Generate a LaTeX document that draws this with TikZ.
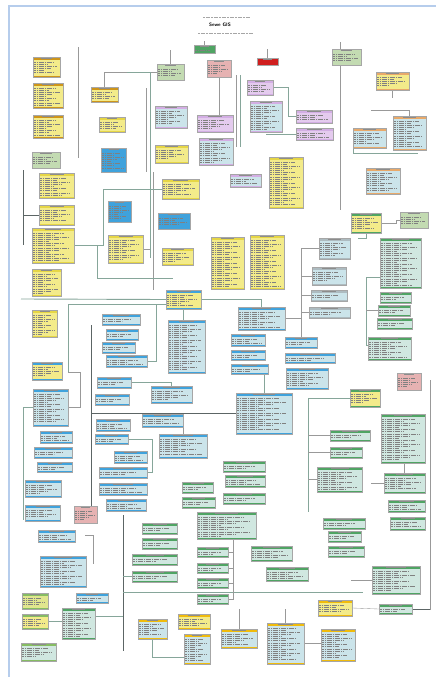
\documentclass[tikz,border=0pt]{standalone}
\usepackage{tikz}
\usetikzlibrary{calc}
\usetikzlibrary{backgrounds}

\definecolor{hdorange}{HTML}{CE951A}
\definecolor{bdyellow}{HTML}{F3EB8A}
\definecolor{hdyellow}{HTML}{E6D646}
\definecolor{hdblue}{HTML}{3FA2DC}
\definecolor{bdblue}{HTML}{CBE4EA}
\definecolor{hdgreen}{HTML}{4FA463}
\definecolor{bdgreen}{HTML}{D0E7E0}
\definecolor{ltgreen}{HTML}{C3DBB2}
\definecolor{hdlgreen}{HTML}{86BC62}
\definecolor{bdygreen}{HTML}{E0E68E}
\definecolor{hdlav}{HTML}{D3AEE4}
\definecolor{bdlav}{HTML}{E4CBEE}
\definecolor{pkbox}{HTML}{E6B2B2}
\definecolor{rdbox}{HTML}{D01E1E}
\definecolor{hdgrey}{HTML}{ADBBC0}
\definecolor{hdpeach}{HTML}{E8A96A}
\definecolor{hdgold}{HTML}{F0BB0C}
\definecolor{wirec}{HTML}{86A69A}
\definecolor{darkwirec}{HTML}{5C6565}
\definecolor{frameblue}{HTML}{B6CDEC}

% table box: name, x, y, width, height, header colour, body colour
\newcommand{\tbl}[7]{%
  \node[tblbox, fill=#7, minimum width=#4mm, minimum height=#5mm] (#1) at (#2,#3) {};
  \fill[#6] (#1.north west) rectangle ([yshift=-3mm]#1.north east);
  \fill[#6] (#1.south west) rectangle ([yshift=1.4mm]#1.south east);
  \draw[hdtxt] ([xshift=-#4*0.2mm, yshift=-1.5mm]#1.north) -- ++(#4*0.4mm,0);
  \pgfmathtruncatemacro\tblnl{(#5-5.5)/2.1}%
  \ifnum\tblnl>0
    \foreach \k in {1,...,\tblnl}{%
      \pgfmathsetmacro\tbllen{(#4-2.5)*(0.4+0.13*mod(\k*3,5))}%
      \draw[txtline] ([xshift=1.2mm, yshift={-(2.9+2.1*\k)*1mm}]#1.north west) -- ++(\tbllen*1mm,0);
    }%
  \fi
  \draw[tblrule] (#1.north west) rectangle (#1.south east);
}

\begin{document}
\begin{tikzpicture}[
  x = 1mm,
  y = -1mm,
  tblbox/.style = {
    rectangle,
    draw = none,
    inner sep = 0pt,
    outer sep = 0pt,
    anchor = north west,
  },
  tblrule/.style = {draw = black!35, line width = 0.2mm},
  txtline/.style = {
    draw = black!50,
    line width = 0.3mm,
    dash pattern = on 2.2mm off 0.6mm on 1mm off 0.6mm on 3mm off 0.6mm,
  },
  hdtxt/.style = {draw = black!45, line width = 0.3mm},
  wire/.style = {draw = wirec, line width = 0.9mm},
  thinwire/.style = {draw = black!40, line width = 0.35mm},
  darkwire/.style = {draw = darkwirec, line width = 0.8mm},
]
  \useasboundingbox (0,0) rectangle (436,677);

  % title
  \node[font=\sffamily\bfseries\fontsize{14}{16}\selectfont] (title) at (220,25) {Sewe GIS};
  \coordinate (sta) at (203,17); \coordinate (stb) at (250,17);
  \coordinate (sba) at (198,33); \coordinate (sbb) at (253,33);
  \draw[txtline, draw=black!35, line width=0.3mm] (sta) -- (stb);
  \draw[txtline, draw=black!35, line width=0.3mm] (sba) -- (sbb);

  % top area
  \tbl{ora}{33}{57}{27}{20}{hdorange}{bdyellow}
  \tbl{orb}{33}{83}{30}{25}{hdorange}{bdyellow}
  \tbl{orc}{33}{115}{30}{23}{hdorange}{bdyellow}
  \tbl{lga}{32}{152}{28}{16}{ltgreen}{ltgreen}
  \tbl{ord}{91}{87}{27}{15}{hdorange}{bdyellow}
  \tbl{yla}{99}{117}{26}{15}{hdyellow}{bdyellow}
  \tbl{bsa}{101}{148}{25}{24}{hdblue}{hdblue}
  \tbl{lgb}{157}{64}{27}{16}{ltgreen}{ltgreen}
  \tbl{dga}{194}{45}{21}{8}{hdgreen}{hdgreen}
  \tbl{pka}{207}{60}{24}{17}{pkbox}{pkbox}
  \tbl{lva}{155}{106}{32}{22}{hdlav}{bdblue}
  \tbl{ylb}{155}{145}{33}{18}{hdyellow}{bdyellow}
  \tbl{lvb}{197}{115}{36}{17}{hdlav}{bdlav}
  \tbl{lvc}{199}{138}{34}{27}{hdlav}{bdblue}
  \tbl{rda}{257}{58}{21}{7}{rdbox}{rdbox}
  \tbl{lgc}{332}{49}{29}{16}{ltgreen}{ltgreen}
  \tbl{pca}{376}{72}{33}{18}{hdpeach}{bdyellow}
  \tbl{lvd}{247}{80}{26}{15}{hdlav}{bdlav}
  \tbl{lve}{250}{101}{32}{31}{hdlav}{bdblue}
  \tbl{lvf}{296}{110}{36}{13}{hdlav}{bdlav}
  \tbl{lvg}{296}{128}{37}{12}{hdlav}{bdlav}
  \tbl{pcb}{353}{128}{33}{20}{hdpeach}{bdblue}
  \tbl{pcc}{393}{116}{33}{34}{hdpeach}{bdblue}
  \tbl{ylc}{269}{157}{34}{51}{hdyellow}{bdyellow}
  \tbl{pcd}{366}{168}{34}{26}{hdpeach}{bdblue}

  % yellow block
  \tbl{yld}{39}{173}{35}{25}{hdyellow}{bdyellow}
  \tbl{yle}{39}{205}{35}{20}{hdyellow}{bdyellow}
  \tbl{ylf}{32}{228}{42}{35}{hdyellow}{bdyellow}
  \tbl{ylg}{32}{269}{29}{27}{hdyellow}{bdyellow}
  \tbl{bsb}{108}{201}{23}{21}{hdblue}{hdblue}
  \tbl{ylh}{108}{235}{35}{28}{hdyellow}{bdyellow}
  \tbl{yli}{162}{179}{37}{20}{hdyellow}{bdyellow}
  \tbl{bsc}{158}{213}{32}{16}{hdblue}{hdblue}
  \tbl{ylj}{162}{248}{31}{17}{hdyellow}{bdyellow}
  \tbl{ylk}{211}{237}{33}{52}{hdyellow}{bdyellow}
  \tbl{yll}{250}{235}{34}{54}{hdyellow}{bdyellow}
  \tbl{lvh}{230}{174}{31}{13}{hdlav}{bdblue}

  % right middle
  \tbl{gya}{351}{213}{30}{20}{hdgreen}{bdyellow}
  \tbl{lgd}{400}{212}{28}{16}{ltgreen}{ltgreen}
  \tbl{gra}{319}{238}{31}{21}{hdgrey}{bdblue}
  \tbl{grb}{312}{267}{34}{18}{hdgrey}{bdblue}
  \tbl{grc}{311}{290}{36}{11}{hdgrey}{bdblue}
  \tbl{grd}{309}{307}{41}{11}{hdgrey}{bdblue}
  \tbl{gna}{380}{238}{41}{50}{hdgreen}{bdgreen}
  \tbl{gnb}{380}{292}{31}{11}{hdgreen}{bdgreen}
  \tbl{gnc}{378}{305}{32}{11}{hdgreen}{bdgreen}
  \tbl{gnd}{377}{318}{35}{11}{hdgreen}{bdgreen}

  % blue block
  \tbl{bya}{166}{290}{35}{19}{hdblue}{bdyellow}
  \tbl{bla}{168}{320}{37}{53}{hdblue}{bdblue}
  \tbl{ylm}{32}{310}{25}{27}{hdyellow}{bdyellow}
  \tbl{blb}{102}{314}{38}{11}{hdblue}{bdblue}
  \tbl{blc}{106}{329}{32}{11}{hdblue}{bdblue}
  \tbl{bld}{238}{307}{47}{23}{hdblue}{bdblue}
  \tbl{ble}{231}{334}{34}{12}{hdblue}{bdblue}
  \tbl{blf}{231}{350}{34}{10}{hdblue}{bdblue}
  \tbl{blg}{231}{364}{37}{10}{hdblue}{bdblue}
  \tbl{blh}{285}{337}{32}{11}{hdblue}{bdblue}
  \tbl{bli}{285}{353}{50}{10}{hdblue}{bdblue}
  \tbl{blj}{286}{368}{42}{21}{hdblue}{bdblue}
  \tbl{blk}{236}{393}{56}{41}{hdblue}{bdblue}
  \tbl{bll}{102}{342}{33}{11}{hdblue}{bdblue}
  \tbl{blm}{106}{355}{41}{12}{hdblue}{bdblue}
  \tbl{byb}{32}{362}{30}{18}{hdblue}{bdyellow}
  \tbl{bln}{33}{389}{35}{37}{hdblue}{bdblue}
  \tbl{blo}{40}{431}{32}{12}{hdblue}{bdblue}
  \tbl{blp}{34}{447}{38}{11}{hdblue}{bdblue}
  \tbl{blq}{37}{462}{35}{10}{hdblue}{bdblue}
  \tbl{blr}{25}{480}{36}{17}{hdblue}{bdblue}
  \tbl{bls}{25}{505}{35}{16}{hdblue}{bdblue}
  \tbl{pkb}{74}{506}{23}{17}{pkbox}{pkbox}
  \tbl{blt}{97}{377}{34}{11}{hdblue}{bdblue}
  \tbl{blu}{95}{394}{34}{11}{hdblue}{bdblue}
  \tbl{blv}{151}{386}{41}{17}{hdblue}{bdblue}
  \tbl{blw}{142}{414}{41}{13}{hdblue}{bdblue}
  \tbl{blx}{96}{419}{34}{12}{hdblue}{bdblue}
  \tbl{bly}{95}{434}{33}{10}{hdblue}{bdblue}
  \tbl{blz}{159}{434}{48}{24}{hdblue}{bdblue}
  \tbl{bma}{114}{451}{33}{12}{hdblue}{bdblue}
  \tbl{bmb}{99}{467}{48}{11}{hdblue}{bdblue}
  \tbl{bmc}{99}{483}{48}{12}{hdblue}{bdblue}
  \tbl{bmd}{106}{499}{40}{12}{hdblue}{bdblue}

  % green block
  \tbl{gne}{182}{482}{31}{11}{hdgreen}{bdgreen}
  \tbl{gnf}{182}{497}{33}{11}{hdgreen}{bdgreen}
  \tbl{gng}{368}{337}{43}{23}{hdgreen}{bdgreen}
  \tbl{pkc}{397}{373}{24}{17}{pkbox}{pkbox}
  \tbl{gyb}{350}{389}{30}{18}{hdgreen}{bdyellow}
  \tbl{gnh}{381}{414}{44}{49}{hdgreen}{bdgreen}
  \tbl{gni}{330}{430}{40}{11}{hdgreen}{bdgreen}
  \tbl{gnj}{330}{447}{32}{11}{hdgreen}{bdgreen}
  \tbl{gnk}{317}{467}{45}{25}{hdgreen}{bdgreen}
  \tbl{gnl}{384}{473}{41}{20}{hdgreen}{bdgreen}
  \tbl{gnm}{388}{500}{37}{12}{hdgreen}{bdgreen}
  \tbl{gnn}{223}{461}{42}{11}{hdgreen}{bdgreen}
  \tbl{gno}{225}{475}{40}{12}{hdgreen}{bdgreen}
  \tbl{gnp}{223}{493}{42}{11}{hdgreen}{bdgreen}

  % bottom
  \tbl{bme}{38}{530}{37}{12}{hdblue}{bdblue}
  \tbl{bmf}{40}{556}{46}{31}{hdblue}{bdblue}
  \tbl{bmg}{76}{593}{32}{10}{hdblue}{bdblue}
  \tbl{lgf}{22}{593}{26}{16}{hdlgreen}{bdygreen}
  \tbl{lgg}{22}{614}{26}{15}{hdlgreen}{bdyellow}
  \tbl{lgh}{21}{643}{35}{18}{hdlgreen}{bdgreen}
  \tbl{gnq}{62}{608}{33}{31}{hdgreen}{bdgreen}
  \tbl{gnr}{142}{523}{35}{11}{hdgreen}{bdgreen}
  \tbl{gns}{142}{538}{35}{11}{hdgreen}{bdgreen}
  \tbl{gnt}{132}{554}{45}{11}{hdgreen}{bdgreen}
  \tbl{gnu}{132}{571}{45}{11}{hdgreen}{bdgreen}
  \tbl{gnv}{197}{512}{59}{27}{hdgreen}{bdgreen}
  \tbl{gnw}{197}{547}{31}{10}{hdgreen}{bdgreen}
  \tbl{gnx}{197}{563}{31}{10}{hdgreen}{bdgreen}
  \tbl{gny}{197}{578}{31}{10}{hdgreen}{bdgreen}
  \tbl{gnz}{197}{594}{31}{10}{hdgreen}{bdgreen}
  \tbl{goa}{251}{546}{41}{15}{hdgreen}{bdgreen}
  \tbl{gob}{266}{567}{42}{14}{hdgreen}{bdgreen}
  \tbl{goc}{323}{518}{42}{11}{hdgreen}{bdgreen}
  \tbl{god}{328}{531}{33}{11}{hdgreen}{bdgreen}
  \tbl{goe}{328}{546}{36}{11}{hdgreen}{bdgreen}
  \tbl{gof}{390}{517}{35}{13}{hdgreen}{bdgreen}
  \tbl{gog}{372}{566}{48}{28}{hdgreen}{bdgreen}
  \tbl{goh}{379}{604}{33}{10}{hdgreen}{bdgreen}
  \tbl{yba}{138}{619}{29}{20}{hdgold}{bdblue}
  \tbl{ybb}{178}{614}{32}{15}{hdgold}{bdyellow}
  \tbl{ybc}{184}{634}{26}{30}{hdgold}{bdblue}
  \tbl{ybd}{318}{600}{34}{16}{hdgold}{bdyellow}
  \tbl{ybe}{221}{629}{36}{19}{hdgold}{bdblue}
  \tbl{ybf}{267}{623}{37}{41}{hdgold}{bdblue}
  \tbl{ybg}{321}{629}{34}{32}{hdgold}{bdblue}

  % free ends of connectors
  \coordinate (vla) at (78,47);   \coordinate (vlb) at (78,158);
  \coordinate (tha) at (127,72);  \coordinate (thb) at (150,258);
  \coordinate (tta) at (146,88);  \coordinate (ttb) at (146,172);
  \coordinate (tca) at (153,172); \coordinate (tcb) at (153,290);
  \coordinate (gva) at (240,75);  \coordinate (gvb) at (240,147);
  \coordinate (gwa) at (236,75);  \coordinate (gwb) at (236,147);
  \coordinate (pcl) at (371,110); \coordinate (pcr) at (418,153);
  \coordinate (vra) at (340,42);  \coordinate (vrb) at (340,210);
  \coordinate (yva) at (23,170);  \coordinate (yvb) at (23,245);
  \coordinate (yha) at (97,245);  \coordinate (yhb) at (173,278);
  \coordinate (bwa) at (21,299);  \coordinate (bwb) at (68,372);
  \coordinate (bvc) at (156,304);
  \coordinate (dka) at (91,325);  \coordinate (dkb) at (91,510);
  \coordinate (gla) at (23,520);
  \coordinate (gvk) at (366,345); \coordinate (gyc) at (358,238);
  \coordinate (gvx) at (308,512); \coordinate (rva) at (430,380);
  \coordinate (dkc) at (123,515); \coordinate (dkd) at (123,651);
  \coordinate (hwe) at (363,592);
  \coordinate (lsa) at (85,535);  \coordinate (lsb) at (93,564);
  \coordinate (vgx) at (233,600);

  \begin{scope}[on background layer]
    \fill[white] (0,0) rectangle (436,677);
    \draw[frameblue, line width=1.2mm] (9,677) -- (9,6) -- (436,6);

    % top
    \draw[thinwire] (vla) -- (vlb);
    \draw[thinwire] (lgb.west) -| (ord.north);
    \draw[wire] (tha) -| (thb);
    \draw[thinwire] (tta) -- (ttb);
    \draw[thinwire] (tca) -- (tcb);
    \draw[thinwire] (lgb.north) -- ++(0,-14);
    \draw[thinwire] (dga.north) -- ++(0,-4);
    \draw[thinwire] (pka.south) -- (pka.south |- lvb.north);
    \draw[thinwire] (rda.north) -- ++(0,-9);
    \draw[wire] (lvd.east) -- ++(15,0) |- (lvf.west);
    \draw[wire] (lvg.west) -- ++(-30,0);
    \draw[wire] (gva) -- (gvb);
    \draw[thinwire] (gwa) -- (gwb);
    \draw[thinwire] (pcl) -| (pcc.north);
    \draw[thinwire] (pca.south) -- ++(0,8);
    \draw[wire] (pcb.south west) |- (pcr);
    \draw[thinwire] (vra) -- (vrb);

    % yellow block
    \draw[darkwire] (yva) -- (yvb);
    \draw[darkwire] (yle.west) -- (yle.west -| yva);
    \draw[wire] (ylf.east) -- ++(29,0) |- (yli.west);
    \draw[wire] (yha) |- (yhb);
    \draw[thinwire] (ylh.east) -- (ylh.east -| thb);

    % blue block
    \draw[wire] (bwa) -- (bya.west);
    \draw[wire] (bya.east) -| (bld.north);
    \draw[wire] ([yshift=-4.5mm]bya.west) -| (bwb);
    \draw[thinwire] (bwb) -- ++(12,0) |- (bln.east);
    \draw[wire] (bya.south) -- (bya.south |- bla.north);
    \draw[wire] (blm.east) -| (bvc);
    \draw[wire] (blt.east) -| (blv.north);
    \draw[darkwire] (dka) -- (dkb);
    \draw[darkwire] (blk.west) -- (blk.west -| dka);
    \draw[wire] (blk.north) -- (blk.north |- blg.south);
    \draw[wire] (bly.east) -| ([xshift=5mm]bmb.east) -- (bmb.east);
    \draw[thinwire] (blw.east) -| (blz.north);
    \draw[wire] (bln.west) -| (gla);

    % grey and green right
    \draw[thinwire] (gra.west) -| (blh.north);
    \draw[thinwire] (grb.west) -- (grb.west -| blh.north);
    \draw[thinwire] (grc.west) -- (grc.west -| blh.north);
    \draw[thinwire] (grd.west) -- (grd.west -| blh.north);
    \draw[thinwire] (bld.east) -- (bld.east -| blh.north);
    \draw[wire] ([yshift=-14mm]gna.west) -| (gvk) -- (gvk -| gng.west);
    \draw[thinwire] (gnc.west) -- (gnc.west -| gvk);
    \draw[wire] (gya.south) |- (gyc);
    \draw[thinwire] (gya.east) -| ([xshift=-4mm]lgd.west) -- (lgd.west);
    \draw[wire] (gyb.west) -| (gvx);
    \draw[thinwire] (gnk.west) -- (gnk.west -| gvx);
    \draw[thinwire] (gni.west) -- (gni.west -| gvx);
    \draw[thinwire] (gnj.west) -- (gnj.west -| gvx);
    \draw[thinwire] (gnl.north) -- (gnl.north |- gnh.south);
    \draw[thinwire] (gnl.west) -- ++(-13,0);
    \draw[thinwire] (rva) |- (goh.east);
    \draw[darkwire] (goh.east) -- (goh.east -| rva);
    \draw[thinwire] (gog.west) -- ++(-21,0);
    \draw[thinwire] (ybd.east) -- (goh.west);

    % bottom
    \draw[darkwire] (dkc) -- (dkd);
    \draw[wire] (hwe -| dkc) -- (hwe);
    \draw[wire] (gnu.west) -- (gnu.west -| dkc);
    \draw[wire] ([yshift=-8mm]gnq.north east) -- ([yshift=-8mm]gnq.north east -| dkc);
    \draw[wire] (lgg.east) -- (lgg.east -| gnq.west);
    \draw[thinwire] (lsa) -| (lsb);
    \draw[thinwire] (vgx |- gnv.south) -- (vgx);
    \foreach \bx in {gnw,gnx,gny,gnz}
      \draw[thinwire] (\bx.east) -- (\bx.east -| vgx);
    \draw[thinwire] (ybe.north) -- ++(0,-20);
    \draw[thinwire] (ybf.north) -- ++(0,-14);
    \draw[wire] (yba.south) |- ([yshift=-8mm]ybc.west);
    \draw[thinwire] (ybf.east) -- (ybf.east -| ybg.west);
  \end{scope}
\end{tikzpicture}
\end{document}
